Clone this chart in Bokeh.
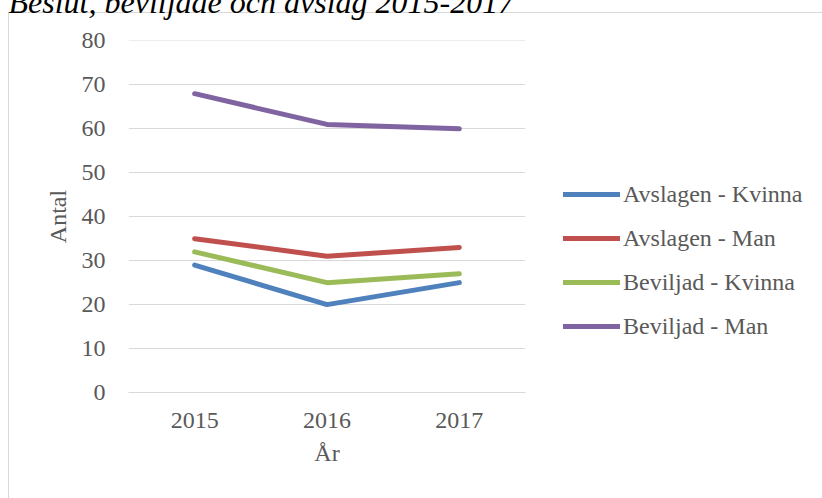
from bokeh.plotting import figure
from bokeh.models import (FactorRange, Range1d, FixedTicker, Legend, LegendItem,
                          Title, ColumnDataSource)
from bokeh.embed import file_html
from bokeh.resources import INLINE

years = ["2015", "2016", "2017"]
avslagen_kvinna = [29, 20, 25]
avslagen_man = [35, 31, 33]
beviljad_kvinna = [32, 25, 27]
beviljad_man = [68, 61, 60]
series_names = ["Avslagen - Kvinna", "Avslagen - Man", "Beviljad - Kvinna", "Beviljad - Man"]
series_colors = ["#4F81BD", "#C0504D", "#9BBB59", "#8064A2"]
y_ticks = [0, 10, 20, 30, 40, 50, 60, 70, 80]
title_text = "Beslut, beviljade och avslag 2015-2017"

FONT = "Liberation Serif"
TXT = "#595959"
GRID = "#D9D9D9"
SHIFT = 52  # part of the canvas pushed above the page top (title is cut, as in the reference)

p = figure(frame_width=397, frame_height=352,
           x_range=FactorRange(*years, range_padding=0),
           y_range=Range1d(0, 80.1), output_backend="svg", toolbar_location=None,
           min_border_left=128, min_border_right=297, min_border_top=40 + SHIFT,
           min_border_bottom=106)
p.outline_line_color = None
p.background_fill_color = "white"
p.border_fill_color = None
bg = ("linear-gradient(%s,%s) 8px %dpx / 1px 100%% no-repeat, "
      "linear-gradient(%s,%s) 8px %dpx / 100%% 1px no-repeat, #FFFFFF") % (
          GRID, GRID, 12 + SHIFT, GRID, GRID, 12 + SHIFT)
p.styles = {"margin-top": "-%dpx" % SHIFT, "background": bg}

# title
p.add_layout(Title(text=title_text, align="left", offset=-120, standoff=42,
                   vertical_align="bottom", text_font=FONT, text_font_size="32px",
                   text_font_style="italic", text_color="black"), "above")

# axes
p.yaxis.ticker = FixedTicker(ticks=y_ticks)
p.yaxis.axis_line_color = None
p.yaxis.major_tick_line_color = None
p.yaxis.minor_tick_line_color = None
p.yaxis.major_tick_out = 0
p.yaxis.major_tick_in = 0
p.yaxis.major_label_standoff = 23
p.yaxis.major_label_text_font = FONT
p.yaxis.major_label_text_font_size = "24px"
p.yaxis.major_label_text_color = TXT
p.yaxis.axis_label = "Antal"
p.yaxis.axis_label_text_font = FONT
p.yaxis.axis_label_text_font_size = "24px"
p.yaxis.axis_label_text_font_style = "normal"
p.yaxis.axis_label_text_color = TXT
p.yaxis.axis_label_standoff = 8

p.xaxis.axis_line_color = GRID
p.xaxis.axis_line_width = 1
p.xaxis.major_tick_line_color = None
p.xaxis.minor_tick_line_color = None
p.xaxis.major_tick_out = 0
p.xaxis.major_tick_in = 0
p.xaxis.major_label_standoff = 20
p.xaxis.major_label_text_font = FONT
p.xaxis.major_label_text_font_size = "24px"
p.xaxis.major_label_text_color = TXT
p.xaxis.axis_label = "År"
p.xaxis.axis_label_text_font = FONT
p.xaxis.axis_label_text_font_size = "24px"
p.xaxis.axis_label_text_font_style = "normal"
p.xaxis.axis_label_text_color = TXT
p.xaxis.axis_label_standoff = 9

p.xgrid.grid_line_color = None
p.ygrid.grid_line_color = GRID
p.ygrid.grid_line_width = 1

all_series = [avslagen_kvinna, avslagen_man, beviljad_kvinna, beviljad_man]
items = []
for name, vals, col in zip(series_names, all_series, series_colors):
    src = ColumnDataSource(dict(x=years, y=vals))
    r = p.line("x", "y", source=src, line_color=col, line_width=5,
               line_cap="round", line_join="round")
    items.append(LegendItem(label=name, renderers=[r]))

legend = Legend(items=items, location=(38, 44), orientation="vertical",
                padding=0, margin=0, spacing=0, glyph_width=57, glyph_height=44,
                label_height=44, label_standoff=3, border_line_color=None,
                background_fill_alpha=0, label_text_font=FONT,
                label_text_font_size="24px", label_text_color=TXT)
p.add_layout(legend, "right")

open("out.html", "w").write(file_html(p, INLINE))
